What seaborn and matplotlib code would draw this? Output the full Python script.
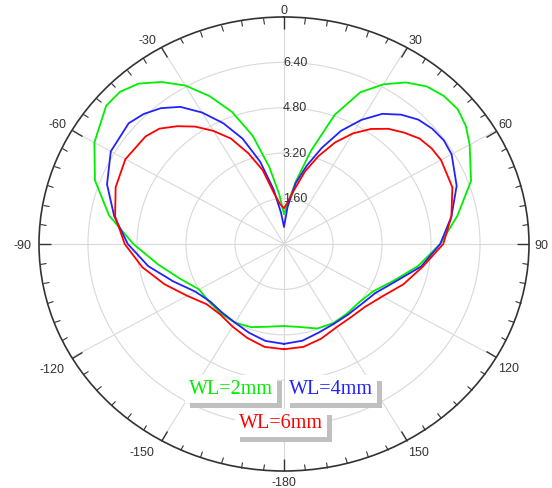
import numpy as np
import pandas as pd
import matplotlib
matplotlib.use("Agg")
import matplotlib.pyplot as plt
import matplotlib.patheffects as pe
from matplotlib.transforms import ScaledTranslation
import seaborn as sns

# ---- data ----
angles_deg = [-180, -170, -160, -150, -140, -130, -120, -110, -100, -90, -80, -70, -60,
              -50, -45, -40, -35, -30, -25, -20, -15, -10, -5, 0, 5, 10, 15, 20, 25,
              30, 35, 40, 45, 50, 55, 60, 70, 80, 90, 100, 110, 120, 130, 140, 150,
              160, 170, 180]
wl2 = [2.89, 2.96, 3.12, 3.20, 3.20, 3.18, 3.20, 3.60, 4.17, 4.92, 5.80, 6.57, 7.15,
       7.58, 7.58, 7.38, 6.97, 6.45, 5.75, 4.95, 3.95, 2.75, 1.75, 1.05, 1.45, 2.25,
       3.40, 4.85, 5.90, 6.50, 6.95, 7.25, 7.38, 7.40, 7.25, 7.00, 6.50, 5.75, 5.10,
       4.45, 3.80, 3.35, 3.20, 3.20, 3.22, 3.17, 2.97, 2.89]
wl4 = [3.52, 3.47, 3.33, 3.20, 3.15, 3.15, 3.35, 3.85, 4.50, 5.10, 5.63, 6.15, 6.53,
       6.62, 6.48, 6.25, 5.90, 5.35, 4.70, 3.95, 3.00, 1.95, 1.10, 0.60, 1.30, 2.17,
       2.85, 3.60, 4.40, 5.05, 5.60, 5.95, 6.20, 6.32, 6.37, 6.32, 6.00, 5.55, 5.10,
       4.55, 3.87, 3.45, 3.30, 3.25, 3.25, 3.32, 3.46, 3.52]
wl6 = [3.71, 3.68, 3.52, 3.36, 3.24, 3.30, 3.65, 4.15, 4.70, 5.20, 5.60, 5.85, 5.98,
       5.90, 5.75, 5.42, 5.05, 4.60, 4.10, 3.40, 2.70, 1.78, 1.40, 1.26, 1.50, 1.95,
       2.65, 3.30, 3.95, 4.50, 4.95, 5.30, 5.55, 5.78, 5.88, 5.92, 5.85, 5.55, 5.20,
       4.60, 4.15, 3.70, 3.45, 3.38, 3.40, 3.55, 3.68, 3.71]
series_names = ["WL=2mm", "WL=4mm", "WL=6mm"]
series_colors = ["#00ee00", "#2222ff", "#ff0000"]
r_ticks = [1.60, 3.20, 4.80, 6.40]
r_max = 8.0
theta_ticks = [0, 30, 60, 90, 120, 150, 180, 210, 240, 270, 300, 330]
theta_labels = ["0", "30", "60", "90", "120", "150", "-180", "-150", "-120", "-90", "-60", "-30"]

frames = []
for name, vals in zip(series_names, [wl2, wl4, wl6]):
    frames.append(pd.DataFrame({"theta": np.radians(angles_deg), "r": vals, "series": name}))
df = pd.concat(frames, ignore_index=True)

# ---- figure ----
sns.set_style("white")
plt.rcParams["font.family"] = ["Liberation Sans", "DejaVu Sans"]
W, H = 552, 488
fig = plt.figure(figsize=(W / 100, H / 100), dpi=100)
cx, cy, rx, ry = 284, 244, 245, 227
ax = fig.add_axes([(cx - rx) / W, (H - cy - ry) / H, 2 * rx / W, 2 * ry / H], projection="polar")
ax.set_aspect("auto")
ax.set_facecolor("white")
ax.set_theta_zero_location("N")
ax.set_theta_direction(-1)

sns.lineplot(data=df, x="theta", y="r", hue="series", hue_order=series_names,
             palette=series_colors, sort=False, estimator=None, legend=False,
             linewidth=1.3, ax=ax)

ax.set_ylim(0, r_max)
ax.set_yticks(r_ticks)
ax.set_yticklabels([])
ax.set_xticks(np.radians(theta_ticks))
ax.set_xticklabels([])
ax.set_xticks(np.radians(np.arange(0, 360, 5)), minor=True)
ax.tick_params(axis="x", which="both", top=True, bottom=False,
               labelbottom=False, labeltop=False)
ax.tick_params(axis="x", which="major", direction="in", length=8.5, width=1.0,
               color="#333333")
ax.tick_params(axis="x", which="minor", direction="in", length=4.3, width=0.8,
               color="#333333")
ax.tick_params(axis="y", left=False, right=False)
ax.grid(True, which="major", color="#d9d9d9", linewidth=0.8)
ax.grid(False, which="minor")
ax.set_xlabel("")
ax.set_ylabel("")
ax.spines["polar"].set_color("#333333")
ax.spines["polar"].set_linewidth(1.2)

# angle labels, anchored just outside the outer circle
for deg, lab in zip(theta_ticks, theta_labels):
    s, c = np.sin(np.radians(deg)), np.cos(np.radians(deg))
    if s > 0.01:
        ha, dx = "left", (5 if abs(s) > 0.99 else 2)
    elif s < -0.01:
        ha, dx = "right", (-5 if c > 0.01 else -7)
    else:
        ha, dx = "center", 0
    if c > 0.01:
        va, dy = "bottom", 0
    elif c < -0.01:
        va, dy = "top", -6
    else:
        va, dy = "center", -2
    tr = ax.transData + ScaledTranslation(dx / 100, dy / 100, fig.dpi_scale_trans)
    ax.text(np.radians(deg), r_max, lab, ha=ha, va=va, fontsize=9, color="#333333",
            transform=tr, clip_on=False)

# radial labels along 0 deg
off = ax.transData + ScaledTranslation(-1 / 100, -0.5 / 100, fig.dpi_scale_trans)
for r in r_ticks:
    ax.text(0, r, f"{r:.2f}", ha="left", va="center", fontsize=9, color="#333333",
            transform=off)

# ---- legend boxes with shadows ----
leg_pos = [(231, 389), (331, 389), (281, 423)]
for name, col, (px, py) in zip(series_names, series_colors, leg_pos):
    t = fig.text(px / W, 1 - py / H, name, ha="center", va="center", color=col,
                 fontsize=14.5, family=["Liberation Serif", "DejaVu Serif"],
                 bbox=dict(boxstyle="square,pad=0.2", facecolor="white", edgecolor="none"))
    t.get_bbox_patch().set_path_effects([
        pe.withSimplePatchShadow(offset=(3.8, -3.8), shadow_rgbFace="#c0c0c0", alpha=1.0),
        pe.Normal()])

fig.savefig("out.png", dpi=100, facecolor="white")
